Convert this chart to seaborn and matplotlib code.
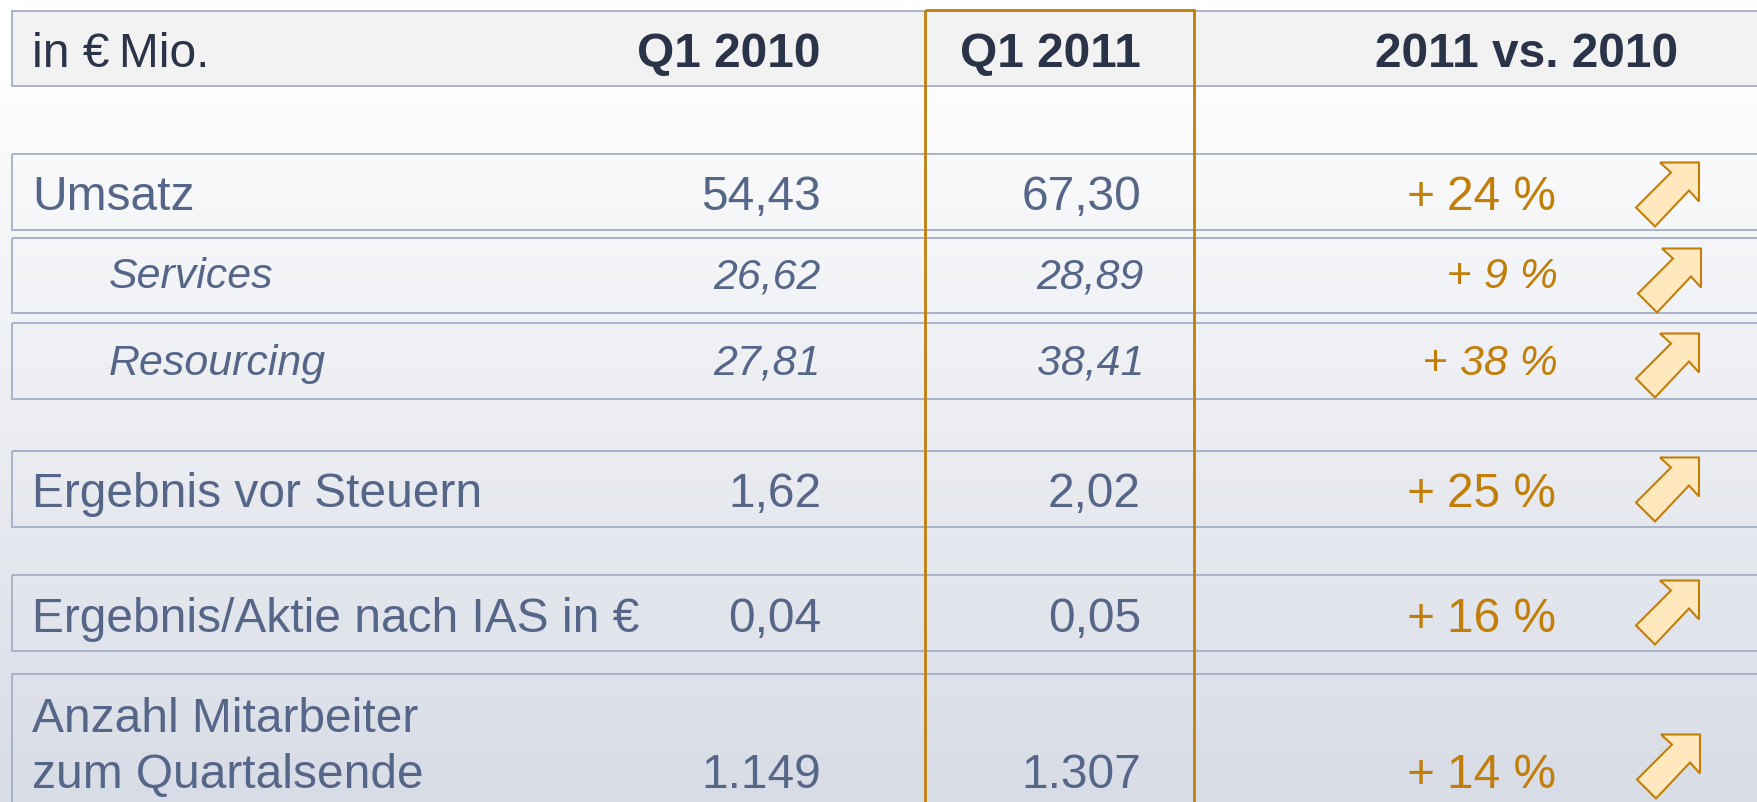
import numpy as np
import seaborn as sns
import matplotlib
matplotlib.use("Agg")
import matplotlib.pyplot as plt
from matplotlib.patches import Polygon, Rectangle

# ---- data ----
header_unit = "in €\u2009Mio."
periods = ["Q1 2010", "Q1 2011"]
compare_label = "2011 vs. 2010"
row_labels = ["Umsatz", "Services", "Resourcing", "Ergebnis vor Steuern",
              "Ergebnis/Aktie nach IAS in €", "Anzahl Mitarbeiter\nzum Quartalsende"]
q1_2010 = ["54,43", "26,62", "27,81", "1,62", "0,04", "1.149"]
q1_2011 = ["67,30", "28,89", "38,41", "2,02", "0,05", "1.307"]
changes = ["24 %", "9 %", "38 %", "25 %", "16 %", "14 %"]

# ---- layout (pixels) ----
W, H = 1758, 803
row_top = [155, 239, 324, 452, 576, 675]
row_bot = [230.5, 314, 399.5, 527.5, 651.5, 840]
baseline = [210, 288.5, 375, 507, 632.5, 788]
italic_row = [False, True, True, False, False, False]
arrow_tr = [(1699, 163.5), (1701, 249.5), (1699, 334.5), (1699, 458.5), (1699, 581.5), (1700, 735.5)]
arrow_shape = np.array([(-39, 0), (0, 0), (0, 39), (-10, 28), (-44, 64),
                        (-63, 45), (-28, 10)], dtype=float)

TXT, DARK, ORANGE = "#566688", "#2a3347", "#c17f0a"
LINE, ARROW_FILL = "#a3afc9", "#ffe8bd"
FS_MAIN, FS_SUB = 34.5, 30.9

sns.set_theme(style="white")
plt.rcParams["font.family"] = ["Liberation Sans", "DejaVu Sans"]

fig = plt.figure(figsize=(W / 100, H / 100), dpi=100)
ax = fig.add_axes([0, 0, 1, 1])
ax.set_xlim(0, W)
ax.set_ylim(H, 0)
ax.axis("off")

# background gradient
cmap = sns.blend_palette(["#fdfdfd", "#d8dce6"], as_cmap=True)
grad = np.clip((np.arange(H) - 80) / (H - 80), 0, 1)[:, None]
ax.imshow(grad, extent=(0, W, H, 0), cmap=cmap, vmin=0, vmax=1, aspect="auto", zorder=0)
ax.add_patch(Rectangle((0, 0), W, 12, fc="white", ec="none", zorder=0.5))
ax.add_patch(Rectangle((0, 12), 12, 76, fc="white", ec="none", zorder=0.5))

# header band and rows
ax.add_patch(Rectangle((12, 12), W + 20, 75, fc="#f2f2f2", ec=LINE, lw=1.3, zorder=1))
for t, b in zip(row_top, row_bot):
    ax.add_patch(Rectangle((12, t), W + 20, b - t, fc="none", ec=LINE, lw=1.3, zorder=1))

# highlight column
ax.add_patch(Rectangle((925.5, 11), 269, H + 30, fc="none", ec=ORANGE, lw=2, zorder=3))

# header text
ax.text(32, 67, header_unit, fontsize=FS_MAIN, color=DARK, va="baseline", ha="left", zorder=4)
ax.text(821, 67, periods[0], fontsize=FS_MAIN, fontweight="bold", color=DARK, va="baseline", ha="right", zorder=4)
ax.text(1050, 67, periods[1], fontsize=FS_MAIN, fontweight="bold", color=DARK, va="baseline", ha="center", zorder=4)
ax.text(1678, 67, compare_label, fontsize=FS_MAIN, fontweight="bold", color=DARK, va="baseline", ha="right", zorder=4)

fig.canvas.draw()
rend = fig.canvas.get_renderer()

for i, lab in enumerate(row_labels):
    it = italic_row[i]
    fs = FS_SUB if it else FS_MAIN
    style = "italic" if it else "normal"
    y = baseline[i]
    ax.text(109 if it else 32, y, lab, fontsize=fs, style=style, color=TXT, va="baseline",
            ha="left", linespacing=1.3, zorder=4)
    ax.text(821, y, q1_2010[i], fontsize=fs, style=style, color=TXT, va="baseline", ha="right", zorder=4)
    ax.text(1144 if it else 1141, y, q1_2011[i], fontsize=fs, style=style, color=TXT,
            va="baseline", ha="right", zorder=4)
    right = 1558 if it else 1556
    c = ax.text(right, y, changes[i], fontsize=fs, style=style, color=ORANGE, va="baseline", ha="right", zorder=4)
    left = c.get_window_extent(rend).x0
    ax.text(left - 12, y, "+", fontsize=fs, color=ORANGE, va="baseline", ha="right", zorder=4)
    ax.add_patch(Polygon(arrow_shape + np.array(arrow_tr[i]), closed=True, fc=ARROW_FILL,
                         ec=ORANGE, lw=1.5, joinstyle="miter", zorder=4))

fig.savefig("out.png", dpi=100)
